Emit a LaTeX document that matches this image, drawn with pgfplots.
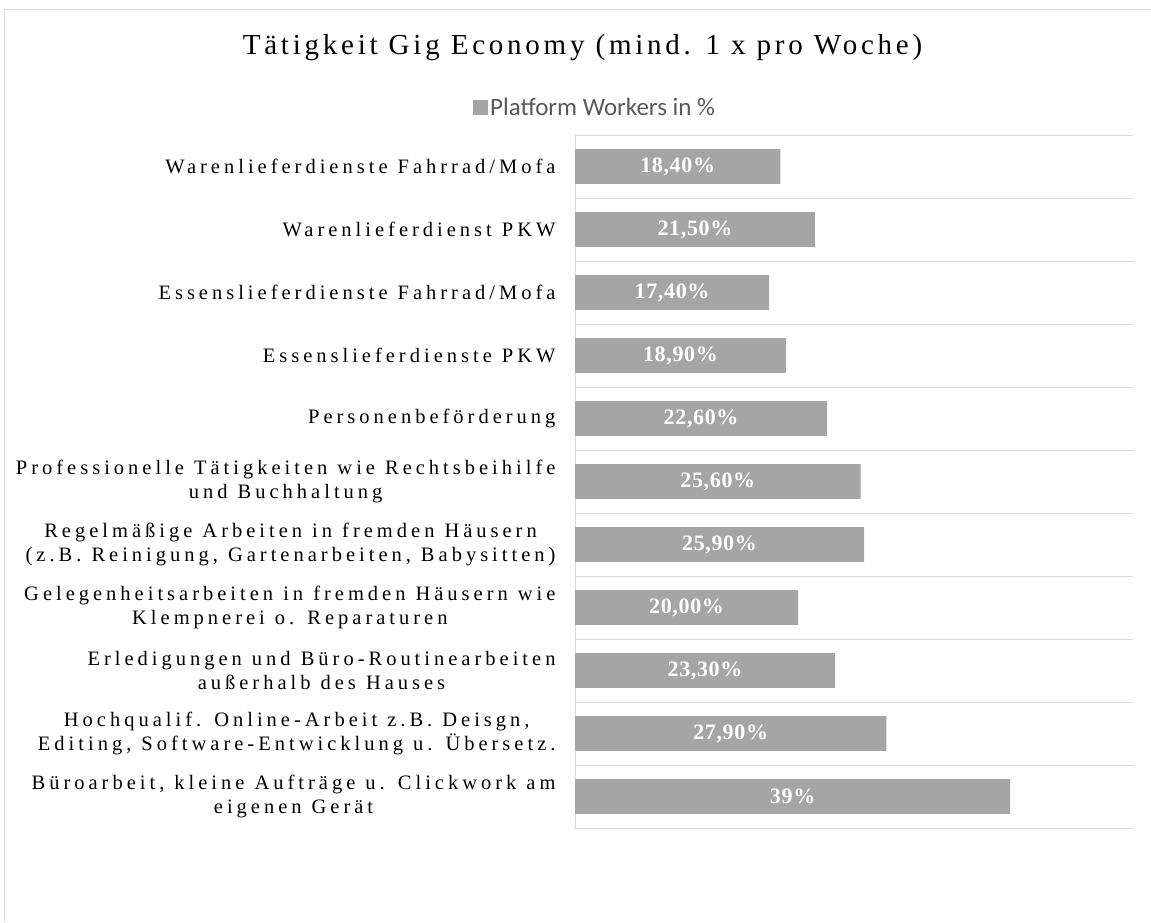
\documentclass[border=0pt]{standalone}
\usepackage{pgfplots}
\pgfplotsset{compat=1.18}
\usepackage{pgfplotstable}
\usepackage{fontspec}
\setmainfont{Liberation Serif}
\newfontfamily\catfont[LetterSpace=19.5, WordSpace=1.1]{Liberation Serif}
\newfontfamily\titlefont[LetterSpace=13]{Liberation Serif}
\newfontfamily\valfont[LetterSpace=3]{Liberation Serif}
\newfontfamily\legfont{Carlito}
\definecolor{barc}{HTML}{A5A5A5}
\definecolor{gridc}{HTML}{D9D9D9}
\definecolor{legc}{HTML}{595959}

\pgfplotstableread{
y v label
1 18.4 18,40
2 21.5 21,50
3 17.4 17,40
4 18.9 18,90
5 22.6 22,60
6 25.6 25,60
7 25.9 25,90
8 20.0 20,00
9 23.3 23,30
10 27.9 27,90
11 39.0 39
}\data

\begin{document}
\begin{tikzpicture}
\path[use as bounding box] (0pt,0pt) rectangle (1151pt,-922pt);
\draw[gridc, line width=1pt] (4pt,-922pt) -- (4pt,-9pt) -- (1151pt,-9pt);
\begin{axis}[
  at={(575pt,-135pt)}, anchor=north west,
  width=558pt, height=693pt, scale only axis,
  xmin=0, xmax=50, ymin=0.5, ymax=11.5, y dir=reverse,
  axis x line=none,
  axis y line*=left,
  y axis line style={draw=gridc, line width=1pt, -},
  ytick={1,...,11},
  yticklabels={
    {Warenlieferdienste Fahrrad/Mofa},
    {Warenlieferdienst PKW},
    {Essenslieferdienste Fahrrad/Mofa},
    {Essenslieferdienste PKW},
    {Personenbeförderung},
    {Professionelle Tätigkeiten wie Rechtsbeihilfe\\und Buchhaltung},
    {Regelmäßige Arbeiten in fremden Häusern\\(z.B. Reinigung, Gartenarbeiten, Babysitten)},
    {Gelegenheitsarbeiten in fremden Häusern wie\\Klempnerei o. Reparaturen},
    {Erledigungen und Büro-Routinearbeiten\\außerhalb des Hauses},
    {Hochqualif. Online-Arbeit z.B. Deisgn,\\Editing, Software-Entwicklung u. Übersetz.},
    {Büroarbeit, kleine Aufträge u. Clickwork am\\eigenen Gerät}
  },
  major tick length=0pt,
  yticklabel style={font=\catfont\fontsize{20.5}{23.5}\selectfont, align=center, text=black, xshift=-16pt},
  extra y ticks={0.5,1.5,...,11.5},
  extra y tick labels={},
  extra y tick style={ymajorgrids=true, major grid style={draw=gridc, line width=1pt}},
  title={Tätigkeit Gig Economy (mind. 1 x pro Woche)},
  title style={at={(0.0135,1.118)}, anchor=center, font=\titlefont\fontsize{29}{34}\selectfont},
  legend style={at={(0.036,1.04)}, anchor=center, draw=none, fill=none,
    font=\legfont\fontsize{25}{28}\selectfont, text=legc, nodes={inner xsep=2.5pt}},
  legend image code/.code={\fill[barc] (0pt,-7.5pt) rectangle (15pt,7.5pt);},
  clip=false,
]
\addplot[xbar, bar width=0.55, bar shift=0pt, fill=barc, draw=none]
  table[x=v, y=y] {\data};
\addlegendentry{Platform Workers in \%}
\addplot[forget plot, draw=none, mark=none,
  nodes near coords={\pgfplotspointmeta\%},
  point meta=explicit symbolic,
  every node near coord/.append style={anchor=center, text=white,
    font=\valfont\bfseries\fontsize{22}{26}\selectfont}]
  table[x expr=\thisrow{v}/2, y=y, meta=label] {\data};
\end{axis}
\end{tikzpicture}
\end{document}
